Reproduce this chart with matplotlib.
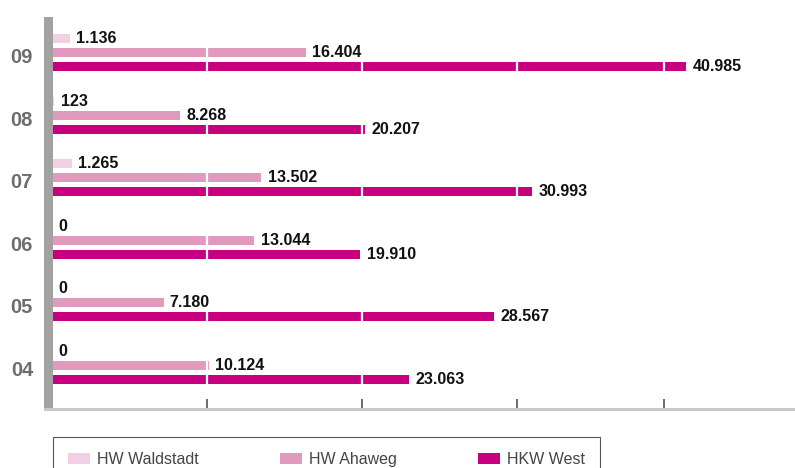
import matplotlib.pyplot as plt
import numpy as np
from matplotlib.patches import Rectangle

plt.rcParams["font.family"] = ["Liberation Sans", "DejaVu Sans"]

years = ["04", "05", "06", "07", "08", "09"]
series_names = ["HW Waldstadt", "HW Ahaweg", "HKW West"]
waldstadt = [0, 0, 0, 1265, 123, 1136]
ahaweg = [10124, 7180, 13044, 13502, 8268, 16404]
hkw_west = [23063, 28567, 19910, 30993, 20207, 40985]
grid_ticks = [10000, 20000, 30000, 39500]

colors = ["#f1d0e3", "#e09abe", "#c6007e"]

W, H = 795, 468
fig = plt.figure(figsize=(W / 100, H / 100), dpi=100)

ax_left, ax_bottom_px, ax_top_px = 52.5, 409, 17
ax = fig.add_axes([ax_left / W, 1 - ax_bottom_px / H,
                   (W - ax_left) / W, (ax_bottom_px - ax_top_px) / H])

y = np.arange(len(years))
offset = 0.224
bar_h = 0.145

for vals, off, col, name in zip([waldstadt, ahaweg, hkw_west],
                                [offset, 0, -offset], colors, series_names):
    bars = ax.barh(y + off, vals, height=bar_h, color=col, label=name, zorder=2)
    ax.bar_label(bars, labels=[f"{v:,}".replace(",", ".") for v in vals],
                 padding=4.5, fontsize=11.5, fontweight="bold", color="#111111",
                 zorder=4)

# white gaps through bars (below the value labels)
for t in grid_ticks:
    ax.axvline(t, color="white", lw=1.6, zorder=2.5)

ax.set_xlim(0, 48000)
ax.set_ylim(-0.70, len(years) - 1 + 0.568)

ax.set_xticks(grid_ticks)
ax.set_xticklabels([])
ax.tick_params(axis="x", direction="in", length=7, width=1.1, color="#444444")
ax.xaxis.set_zorder(3)

ax.set_yticks(y - 0.05)
ax.set_yticklabels(years, fontsize=14.5, fontweight="bold", color="#6e6e6e")
ax.tick_params(axis="y", length=0, pad=14)

for s in ax.spines.values():
    s.set_visible(False)

# thick grey left bar and light bottom line
fig.add_artist(Rectangle((44 / W, 1 - ax_bottom_px / H), 8.5 / W,
                         (ax_bottom_px - ax_top_px) / H,
                         transform=fig.transFigure, color="#a2a2a2", lw=0))
fig.add_artist(Rectangle((44 / W, 1 - (ax_bottom_px + 1.5) / H), 1 - 44 / W,
                         2.2 / H, transform=fig.transFigure, color="#c8c8c8", lw=0))

leg = fig.legend(loc="upper left", bbox_to_anchor=(53 / W, 1 - 436.7 / H),
                 borderaxespad=0, ncol=3, fontsize=11.5, frameon=True,
                 fancybox=False, edgecolor="#555555", framealpha=1,
                 handlelength=1.35, handleheight=0.7, handletextpad=0.45,
                 columnspacing=5.1, borderpad=0.95)
leg.get_frame().set_linewidth(0.8)
for txt in leg.get_texts():
    txt.set_color("#444444")

fig.savefig("out.png", dpi=100)
